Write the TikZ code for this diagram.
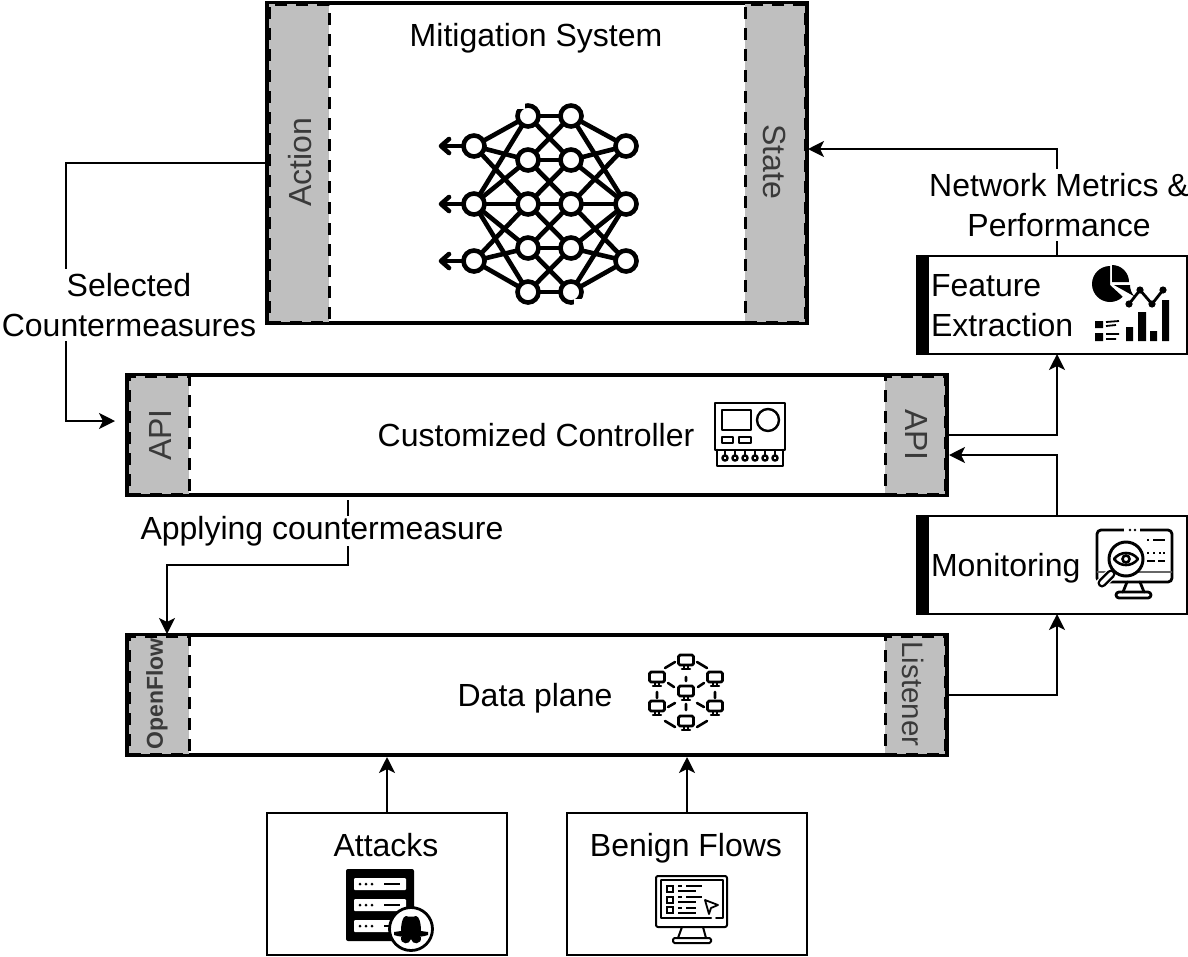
\documentclass[tikz,border=0pt]{standalone}
\usepackage{fontspec}
\setmainfont{Liberation Sans}
\usetikzlibrary{arrows.meta,calc}
\tikzset{
 x=1pt,y=-1pt,
 base/.style={inner sep=0pt,outer sep=0pt,font=\fontsize{32}{40}\selectfont,align=center,text height=23pt,text depth=0pt},
 multi/.style={text height=,text depth=},
 bigbox/.style={base,draw=black,line width=4pt,fill=white},
 thinbox/.style={base,draw=black,line width=2.6pt,fill=white},
 graybox/.style={base,draw=black,line width=3pt,fill=gray75,dash pattern=on 12pt off 9pt,text=txtgray},
 lbl/.style={base,fill=white,inner xsep=2pt,text depth=7pt},
 plain/.style={base},
 conn/.style={line width=2pt,-{Stealth[length=16pt,width=16pt,inset=4pt]}},
 ic/.style={line width=2pt,line cap=round,line join=round},
 nn/.style={line width=4.6pt,line cap=round},
 nnode/.style={circle,draw=black,line width=4.6pt,fill=white,minimum size=21pt,inner sep=0pt},
}
\definecolor{gray75}{HTML}{BFBFBF}
\definecolor{txtgray}{HTML}{3A3A3A}
\newcommand{\mon}[2]{%
 \draw[ic,line width=2.8pt,fill=white,rounded corners=1.5pt] (#1-7.5,#2-6) rectangle (#1+7.5,#2+4);
 \draw[ic,line width=2.2pt] (#1-2,#2+5)--(#1-2,#2+7) (#1+2,#2+5)--(#1+2,#2+7) (#1-4,#2+8)--(#1+4,#2+8);}
\begin{document}
\begin{tikzpicture}
\useasboundingbox (0,0) rectangle (1188,956);
\fill[white] (0,0) rectangle (1188,956);
% boxes
\node[bigbox,minimum width=540pt,minimum height=320pt] (mit) at (537,163) {};
\node[graybox,minimum width=60pt,minimum height=318pt] (act) at (299,163) {};
\node[graybox,minimum width=60pt,minimum height=318pt] (sta) at (775,163) {};
\node[base,rotate=90,text=txtgray] (actt) at (300,162) {Action};
\node[base,rotate=-90,text=txtgray] (stat) at (775,162) {State};
\node[plain] (mitt) at (536,34.5) {Mitigation System};

\node[bigbox,minimum width=820pt,minimum height=120pt] (ctl) at (537,435) {};
\node[graybox,minimum width=60pt,minimum height=118pt] (apil) at (159,435) {};
\node[graybox,minimum width=60pt,minimum height=118pt] (apir) at (915,435) {};
\node[base,rotate=90,text=txtgray] (apilt) at (160,435) {API};
\node[base,rotate=-90,text=txtgray] (apirt) at (917,435) {API};
\node[plain] (ctlt) at (536,435) {Customized Controller};

\node[bigbox,minimum width=820pt,minimum height=120pt] (dat) at (537,695) {};
\node[graybox,minimum width=60pt,minimum height=118pt] (ofl) at (159,695) {};
\node[graybox,minimum width=60pt,minimum height=118pt] (lis) at (915,695) {};
\node[base,rotate=90,text=txtgray,font=\bfseries\fontsize{23}{28}\selectfont,text height=16.5pt,text depth=5pt] (oflt) at (157,694) {OpenFlow};
\node[base,rotate=-90,text=txtgray,font=\fontsize{29.5}{36}\selectfont] (list) at (914,694) {Listener};
\node[plain] (datt) at (535,695) {Data plane};

\node[thinbox,minimum width=270pt,minimum height=98pt] (fea) at (1052,305) {};
\fill (917,255) rectangle (929,355);
\node[base,multi,align=left,anchor=west] (feat) at (931,306) {Feature\\Extraction};
\node[thinbox,minimum width=270pt,minimum height=98pt] (mon) at (1052,565) {};
\fill (917,515) rectangle (929,615);
\node[base,anchor=west] (mont) at (931,565) {Monitoring};

\node[thinbox,minimum width=240pt,minimum height=142pt] (att) at (387,884) {};
\node[thinbox,minimum width=240pt,minimum height=142pt] (ben) at (687,884) {};
\node[plain] (attt) at (386,845) {Attacks};
\node[plain] (bent) at (686,845) {Benign Flows};

% connectors
\coordinate (selin) at (115,421);
\coordinate (ctlout) at (348,500);
\draw[conn] (mit.west) -- (66,163) -- (66,421) -- (selin);
\node[lbl,multi,inner ysep=4pt] (sel) at (129,305) {Selected\\Countermeasures};
\coordinate (dtop) at (167,634);
\draw[conn] (ctlout) -- (348,565) -- (167,565) -- (dtop);
\node[lbl] (app) at (322,531) {Applying countermeasure};
\draw[conn] (fea.north -| 1057,0) -- (1057,149) -- (808,149);
\node[lbl,multi,inner ysep=4pt] (net) at (1059,205) {Network Metrics \&\\Performance};
\draw[conn] (947,435) -- (1057,435) -- (fea.south -| 1057,0);
\draw[conn] (mon.north -| 1057,0) -- (1057,455) -- (949,455);
\draw[conn] (947,695) -- (1057,695) -- (mon.south -| 1057,0);
\draw[conn] (att.north -| 387,0) -- (387,757);
\draw[conn] (ben.north -| 687,0) -- (687,757);

% neural network icon
\foreach \y in {146,204,261}{\draw[nn] (474,\y)--(443,\y);
 \draw[nn,line join=round] (449,\y-7)--(441,\y)--(449,\y+7);}
\foreach \a/\b in {146/116,146/160,146/204,204/116,204/160,204/204,204/248,204/292,261/204,261/248,261/292}{
 \draw[nn] (474,\a)--(528,\b); \draw[nn] (626,\a)--(571,\b);}
\foreach \a/\b in {116/116,116/160,160/116,160/160,160/204,204/160,204/204,204/248,248/204,248/248,248/292,292/248,292/292}{
 \draw[nn] (528,\a)--(571,\b);}
\foreach \x/\y in {474/146,474/204,474/261,528/116,528/160,528/204,528/248,528/292,571/116,571/160,571/204,571/248,571/292,626/146,626/204,626/261}{
 \node[nnode] at (\x,\y) {};}
\fill[white] (517,103) rectangle (525,109);
\fill[white] (574,299) rectangle (582,305);

% controller icon
\draw[ic,line width=2.6pt] (715,403) rectangle (785,450);
\draw[ic,line width=2.6pt] (722,410) rectangle (751,430);
\draw[ic,line width=2.4pt] (768,420) circle (11);
\draw[ic,line width=2.4pt] (722,437) rectangle (733,443) (739,437) rectangle (751,443);
\draw[ic,line width=2.6pt] (717,450)--(717,466)--(783,466)--(783,450);
\foreach \x in {725,735,745,755,765,775}{\draw[ic] (\x,450)--(\x,455); \draw[ic,fill=white,line width=2.4pt] (\x,458) circle (2.6);}

% network icon
\draw[ic,line width=2.6pt] (665,668)--(675,662) (697,662)--(707,668) (657,692)--(657,698) (715,692)--(715,698) (686,677)--(686,681) (686,704)--(686,710)
 (668,683)--(674,687) (704,683)--(698,687) (668,707)--(675,703) (704,707)--(697,703) (665,721)--(675,727) (707,721)--(697,727);
\mon{686}{661}\mon{657}{678}\mon{715}{678}\mon{686}{692}\mon{657}{707}\mon{715}{707}\mon{686}{722}

% feature icon
\fill (1110,285) -- (1110,266) arc[start angle=-90,delta angle=-225,radius=18] -- cycle;
\fill (1112,282) -- ++(0,-17) arc[start angle=-90,delta angle=90,radius=17] -- cycle;
\fill (1114,285) -- (1130,285) arc[start angle=0,delta angle=-42,radius=-17] -- cycle;
\draw[line width=2.8pt] (1129,304)--(1140,290)--(1152,304)--(1163,290);
\foreach \x/\y in {1129/304,1140/290,1152/304,1163/290}{\fill (\x,\y) circle (3.6);}
\fill (1126,327) rectangle (1133,341) (1138,312) rectangle (1146,341) (1150,331) rectangle (1157,341) (1162,300) rectangle (1169,341);
\fill (1095,321) rectangle (1103,328) (1095,333) rectangle (1103,341);
\draw[line width=1.8pt] (1106,322)--(1119,321) (1106,326)--(1116,325) (1106,334)--(1119,334) (1106,339)--(1116,339);

% monitoring icon
\draw[ic,line width=2.8pt,rounded corners=4pt] (1097,530) rectangle (1172,582);
\draw[ic,line width=2.8pt,draw=black!60] (1098,572)--(1171,572);
\draw[ic,line width=2.8pt] (1127,582)--(1123,592) (1140,582)--(1144,592);
\draw[ic,line width=2.8pt,rounded corners=3pt] (1116,592) rectangle (1151,598);
\fill[white] (1124,526) rectangle (1140,534);
\fill (1130,530) circle (1.4) (1135,530) circle (1.4);
\draw[line width=11pt,white] (1113,572)--(1099,586);
\draw[line width=9pt,line cap=round] (1111,574)--(1102,583);
\draw[line width=4pt,white,line cap=round] (1111,574)--(1102,583);
\draw[ic,line width=3pt,fill=white] (1126,559) circle (17);
\draw[ic,line width=2.6pt] (1114,559) .. controls (1120,551) and (1132,551) .. (1138,559) .. controls (1132,567) and (1120,567) .. (1114,559) -- cycle;
\draw[line width=2.6pt] (1126,559) circle (3.5);
\draw[line width=2.4pt] (1147,540) -- (1149,540) (1153,540)--(1165,540) (1147,553)--(1149,553) (1153,553)--(1155,553) (1159,553)--(1161,553) (1163,553)--(1165,553) (1147,561)--(1155,561) (1158,561)--(1165,561);

% attacks icon
\fill[rounded corners=2pt] (346,869) rectangle (414,941);
\foreach \y in {878,899,920}{
 \fill[white,rounded corners=1pt] (354,\y) rectangle (406,\y+12);
 \foreach \x in {360,366,372}{\fill (\x,\y+6) circle (1.5);}
 \draw[line width=2pt] (384,\y+6)--(400,\y+6);}
\draw[line width=2.8pt,fill=white] (411,929) circle (21.5);
\fill (394,932) -- (401,931) .. controls (401,923) and (403,916) .. (406,916) .. controls (408,917) and (414,917) .. (416,916) .. controls (419,916) and (421,923) .. (421,931) -- (428,932) -- (428,935) .. controls (420,938) and (402,938) .. (394,935) -- cycle;
\fill (401,937) .. controls (400,945) and (410,945) .. (411,939) .. controls (412,945) and (422,945) .. (421,937) -- cycle;

% benign icon
\draw[ic,line width=2pt,rounded corners=2pt] (656,876) rectangle (727,927);
\draw[ic,line width=2pt] (661,880) -- (723,880) -- (723,918) -- (716,918) (711,918)--(661,918)--(661,880);
\draw[ic,line width=2pt] (682,927)--(678,938) (703,927)--(706,938);
\draw[ic,line width=2pt,rounded corners=1.5pt] (673,938) rectangle (711,943);
\draw[line width=2pt] (667,885.5) rectangle (673,891.5) (667,896.5) rectangle (673,902.5) (667,907) rectangle (673,913);
\draw[line width=1.8pt] (678,886)--(682,886) (686,886)--(702,886) (678,891)--(696,891) (678,897)--(682,897) (686,897)--(702,897) (678,902)--(696,902) (678,908)--(682,908) (686,908)--(696,908) (678,913)--(696,913);
\draw[ic,line width=1.8pt] (705,900)--(718,905)--(711,908)--(709,914)--cycle;
\end{tikzpicture}
\end{document}
